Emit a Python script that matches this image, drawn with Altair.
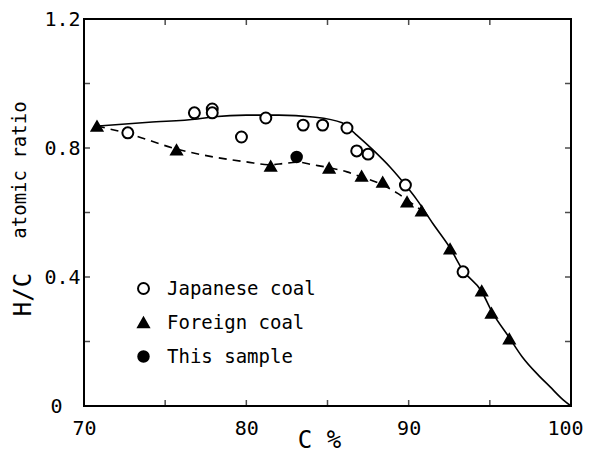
import altair as alt
import pandas as pd

# ---- data ----
jp_c = [72.7, 76.8, 77.9, 77.9, 79.7, 81.2, 83.5, 84.7, 86.2, 86.8, 87.5, 89.8, 93.35]
jp_hc = [0.847, 0.909, 0.921, 0.909, 0.834, 0.893, 0.871, 0.871, 0.862, 0.791, 0.781, 0.685, 0.416]

fo_c = [70.8, 75.7, 81.5, 85.1, 87.1, 88.4, 89.9, 90.8, 92.55, 94.5, 95.1, 96.2]
fo_hc = [0.868, 0.794, 0.744, 0.738, 0.713, 0.694, 0.633, 0.605, 0.487, 0.357, 0.288, 0.208]

sample_c = [83.1]
sample_hc = [0.772]

solid_c = [70.8, 74.0, 77.0, 78.0, 80.0, 82.0, 84.1, 85.9, 86.2, 86.8, 87.8, 88.85, 89.8, 90.5,
           91.5, 92.55, 93.35, 94.5, 95.1, 96.2, 97.0, 98.0, 98.7, 99.5, 100.0]
solid_hc = [0.868, 0.88, 0.89, 0.897, 0.902, 0.902, 0.896, 0.878, 0.866, 0.84, 0.794, 0.741, 0.685,
            0.64, 0.565, 0.49, 0.42, 0.355, 0.295, 0.212, 0.152, 0.095, 0.06, 0.02, 0.0]

dash_c = [70.8, 72.7, 75.7, 78.0, 80.0, 81.5, 82.3, 83.2, 84.1, 85.0, 86.2, 87.0, 88.2, 89.3, 90.0, 91.0]
dash_hc = [0.868, 0.845, 0.797, 0.772, 0.757, 0.748, 0.752, 0.756, 0.748, 0.74, 0.726, 0.712, 0.69,
           0.66, 0.635, 0.6]

series = ["Japanese coal", "Foreign coal", "This sample"]
x_ticks = [75, 80, 85, 90, 95]
y_ticks = [0.2, 0.4, 0.6, 0.8, 1.0]
x_labels = [70, 80, 90, 100]
y_labels = [0, 0.4, 0.8, 1.2]

FONT = "DejaVu Sans Mono"
W, H = 487, 387

pts = pd.DataFrame(
    {"C": jp_c + fo_c + sample_c,
     "HC": jp_hc + fo_hc + sample_hc,
     "series": [series[0]] * len(jp_c) + [series[1]] * len(fo_c) + [series[2]] * len(sample_c)}
)
solid = pd.DataFrame({"C": solid_c, "HC": solid_hc})
dash = pd.DataFrame({"C": dash_c, "HC": dash_hc})
xt = pd.DataFrame({"C": x_ticks})
yt = pd.DataFrame({"HC": y_ticks})

xscale = alt.Scale(domain=[70, 100], nice=False, zero=False)
yscale = alt.Scale(domain=[0, 1.2], nice=False)

xaxis = alt.Axis(values=x_labels, ticks=False, domain=False, grid=False, labelFont=FONT,
                 labelFontSize=20, labelPadding=12, labelColor="black", labelFlush=False,
                 labelOffset={"condition": {"test": "datum.value == 100", "value": -6}, "value": 0},
                 title="C %", titleFont=FONT, titleFontSize=24, titleFontWeight="normal",
                 titleColor="black", titleX=235, titleY=34, titleBaseline="middle")
yaxis = alt.Axis(values=y_labels, ticks=False, domain=False, grid=False, labelFont=FONT,
                 labelFontSize=20, labelColor="black", labelFlush=False,
                 labelPadding={"condition": {"test": "datum.value == 0", "value": 22}, "value": 4},
                 labelExpr="datum.value == 0 ? '0' : format(datum.value, '.1f')",
                 title="H/C", titleFont=FONT, titleFontSize=24, titleFontWeight="normal",
                 titleColor="black", titleX=-49, titleY=275, titleAlign="center",
                 titleAngle=270, titleBaseline="bottom")

solid_line = alt.Chart(solid).mark_line(color="black", strokeWidth=1.6, interpolate="monotone").encode(
    x=alt.X("C:Q", scale=xscale, axis=xaxis),
    y=alt.Y("HC:Q", scale=yscale, axis=yaxis),
)
dash_line = alt.Chart(dash).mark_line(color="black", strokeWidth=1.6, strokeDash=[8, 6],
                                      interpolate="monotone").encode(
    x=alt.X("C:Q", scale=xscale),
    y=alt.Y("HC:Q", scale=yscale),
)

leg = alt.Legend(title=None, orient="none", legendX=50, legendY=260,
                 labelFont=FONT, labelFontSize=19, labelColor="black",
                 rowPadding=14, labelOffset=14, padding=0, symbolStrokeWidth=2)

points = alt.Chart(pts).mark_point(strokeWidth=2, opacity=1, filled=False).encode(
    x=alt.X("C:Q", scale=xscale),
    y=alt.Y("HC:Q", scale=yscale),
    shape=alt.Shape("series:N", scale=alt.Scale(domain=series, range=["circle", "triangle-up", "circle"]),
                    legend=leg),
    fill=alt.Fill("series:N", scale=alt.Scale(domain=series, range=["white", "black", "black"]), legend=leg),
    stroke=alt.Stroke("series:N", scale=alt.Scale(domain=series, range=["black", "black", "black"]), legend=leg),
    size=alt.Size("series:N", scale=alt.Scale(domain=series, range=[120, 110, 210]), legend=leg),
)

tick_b = alt.Chart(xt).mark_tick(orient="vertical", size=6, thickness=1.5, color="black").encode(
    x=alt.X("C:Q", scale=xscale), y=alt.value(H - 3))
tick_t = alt.Chart(xt).mark_tick(orient="vertical", size=6, thickness=1.5, color="black").encode(
    x=alt.X("C:Q", scale=xscale), y=alt.value(3))
tick_l = alt.Chart(yt).mark_tick(orient="horizontal", size=6, thickness=1.5, color="black").encode(
    y=alt.Y("HC:Q", scale=yscale), x=alt.value(3))
tick_r = alt.Chart(yt).mark_tick(orient="horizontal", size=6, thickness=1.5, color="black").encode(
    y=alt.Y("HC:Q", scale=yscale), x=alt.value(W - 3))

sub_title = alt.Chart(pd.DataFrame({"t": ["atomic ratio"]})).mark_text(
    font=FONT, fontSize=19, angle=270, baseline="bottom", align="center", color="black"
).encode(text="t:N", x=alt.value(-54), y=alt.value(151))

chart = alt.layer(solid_line, dash_line, points, tick_b, tick_t, tick_l, tick_r, sub_title).properties(
    width=W, height=H,
    padding={"left": 76, "top": 11, "right": 13, "bottom": 52},
    autosize=alt.AutoSizeParams(type="none"),
    background="white",
).configure_view(stroke="black", strokeWidth=2)

chart.save("out.html", embed_options={"renderer": "svg", "actions": False})
